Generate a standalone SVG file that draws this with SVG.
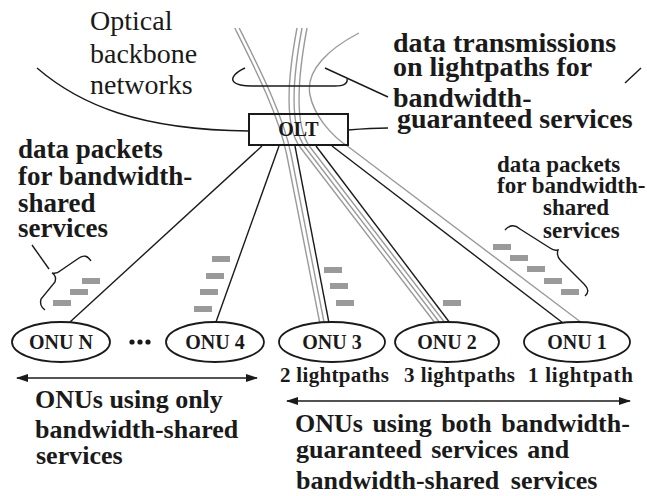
<svg xmlns="http://www.w3.org/2000/svg" width="647" height="496" viewBox="0 0 647 496">
<defs>
<style>
.g{fill:none;stroke:#9a9a9a;stroke-width:1.4}
.k{fill:none;stroke:#1a1a1a;stroke-width:1.4}
.pk{fill:#9a9a9a}
.b{font-weight:bold;fill:#1a1a1a}
.r{fill:#1a1a1a}
.onu{fill:#fff;stroke:#1a1a1a;stroke-width:1.8}
</style>
<marker id="ah" viewBox="0 0 12 8" refX="11" refY="4" markerWidth="12" markerHeight="8" markerUnits="userSpaceOnUse" orient="auto-start-reverse">
<path d="M0,0 L12,4 L0,8 Z" fill="#1a1a1a"/>
</marker>
</defs>
<rect width="647" height="496" fill="#fff"/>

<g font-family="'Liberation Serif', 'DejaVu Serif', serif">
<g id="backbone">
<path class="k" d="M37,68 C80,105 140,130 249,131"/>
<path class="k" d="M348,130 C360,129 375,128 388,128"/>
<path class="k" d="M625,83 L641,68"/>
<text class="r" font-size="28" x="90" y="30">Optical</text>
<text class="r" font-size="28" x="90" y="63">backbone</text>
<text class="r" font-size="28" x="90" y="94">networks</text>
</g>

<g id="connectors">
<path class="g" d="M234.8,28 C254.8,68 278.8,115 286.8,155 L319.8,323"/>
<path class="g" d="M239.2,28 C259.2,68 283.2,115 291.2,155 L324.2,323"/>
<path class="g" d="M297,28 C291,60 281,122 300,147 L435,323"/>
<path class="g" d="M302,28 C296,60 286,122 305,147 L440,323"/>
<path class="g" d="M307,28 C301,60 291,122 310,147 L445,323"/>
<path class="g" d="M359,33 C330,48 305,70 310,95 C314,115 330,135 350,148 L582,323"/>
<path class="k" d="M262,146 L70,322"/>
<path class="k" d="M279,146 L216,322"/>
<path class="k" d="M295,146 L329,323"/>
<path class="k" d="M316,146 L450,323"/>
<path class="k" d="M332,146 L563,323"/>
<path class="k" d="M245,68 C236,72 230,78 234,82 C238,86 248,86 258,86 L335,86 C343,86 348,84 347,79"/>
<path class="k" d="M325,68 L388,97"/>
<path class="k" d="M32,245 L49,269"/>
<path class="k" d="M91,261 Q86,253 79,258 L60,271 Q57,274 52,273 Q57,276 55,282 L41,299 Q39,306 45,310"/>
<path class="k" d="M505,230 Q512,222 520,229 L550,248 Q554,251 558,250 Q556,256 561,261 L584,284 Q591,291 585,296"/>
<line class="k" x1="17" y1="378" x2="257" y2="378" stroke-width="1.8" marker-start="url(#ah)" marker-end="url(#ah)"/>
<line class="k" x1="287" y1="401" x2="630" y2="401" stroke-width="1.8" marker-start="url(#ah)" marker-end="url(#ah)"/>
</g>

<g id="packets">
<rect class="pk" x="82" y="278" width="18" height="6"/>
<rect class="pk" x="70" y="289" width="18" height="6"/>
<rect class="pk" x="53" y="300" width="18" height="6"/>
<rect class="pk" x="212" y="256" width="18" height="6"/>
<rect class="pk" x="206" y="273" width="18" height="6"/>
<rect class="pk" x="200" y="289" width="18" height="6"/>
<rect class="pk" x="194" y="306" width="18" height="6"/>
<rect class="pk" x="324" y="267" width="18" height="6"/>
<rect class="pk" x="330" y="283" width="18" height="6"/>
<rect class="pk" x="336" y="300" width="18" height="6"/>
<rect class="pk" x="443" y="300" width="18" height="6"/>
<rect class="pk" x="493" y="244" width="18" height="6"/>
<rect class="pk" x="510" y="255" width="18" height="6"/>
<rect class="pk" x="527" y="266" width="18" height="6"/>
<rect class="pk" x="544" y="278" width="18" height="6"/>
<rect class="pk" x="561" y="289" width="18" height="6"/>
</g>

<g id="olt">
<rect x="249" y="114" width="99" height="31" fill="none" stroke="#1a1a1a" stroke-width="2"/>
<text class="b" font-size="20" x="298.5" y="136" text-anchor="middle">OLT</text>
</g>

<g id="onuN">
<ellipse class="onu" cx="61" cy="342" rx="49" ry="20"/>
<text class="b" font-size="20" x="61" y="349" text-anchor="middle">ONU N</text>
</g>
<g id="dots">
<circle cx="132" cy="342" r="2.6" fill="#1a1a1a"/>
<circle cx="140" cy="342" r="2.6" fill="#1a1a1a"/>
<circle cx="148" cy="342" r="2.6" fill="#1a1a1a"/>
</g>
<g id="onu4">
<ellipse class="onu" cx="215" cy="342" rx="49" ry="20"/>
<text class="b" font-size="20" x="215" y="349" text-anchor="middle">ONU 4</text>
</g>
<g id="onu3">
<ellipse class="onu" cx="332" cy="342" rx="53" ry="20"/>
<text class="b" font-size="20" x="332" y="349" text-anchor="middle">ONU 3</text>
</g>
<g id="onu2">
<ellipse class="onu" cx="447" cy="342" rx="52" ry="20"/>
<text class="b" font-size="20" x="447" y="349" text-anchor="middle">ONU 2</text>
</g>
<g id="onu1">
<ellipse class="onu" cx="577" cy="342" rx="53" ry="20"/>
<text class="b" font-size="20" x="577" y="349" text-anchor="middle">ONU 1</text>
</g>

<g id="labels">
<text class="b" font-size="21" x="280" y="382" textLength="109">2 lightpaths</text>
<text class="b" font-size="21" x="404" y="382" textLength="111">3 lightpaths</text>
<text class="b" font-size="21" x="528" y="382" textLength="105">1 lightpath</text>

<text class="b" font-size="28" x="393" y="52">data transmissions</text>
<text class="b" font-size="28" x="393" y="76">on lightpaths for</text>
<text class="b" font-size="28" x="393" y="107">bandwidth-</text>
<text class="b" font-size="28" x="397" y="128">guaranteed services</text>

<text class="b" font-size="27" x="18" y="158">data packets</text>
<text class="b" font-size="27" x="18" y="185">for bandwidth-</text>
<text class="b" font-size="27" x="18" y="212">shared</text>
<text class="b" font-size="27" x="18" y="237">services</text>

<text class="b" font-size="23" x="497" y="172">data packets</text>
<text class="b" font-size="23" x="497" y="193">for bandwidth-</text>
<text class="b" font-size="23" x="543" y="215">shared</text>
<text class="b" font-size="23" x="543" y="238">services</text>

<text class="b" font-size="26" x="35" y="408">ONUs using only</text>
<text class="b" font-size="26" x="35" y="438">bandwidth-shared</text>
<text class="b" font-size="26" x="36" y="464">services</text>

<text class="b" font-size="26" x="295" y="432" word-spacing="3">ONUs using both bandwidth-</text>
<text class="b" font-size="26" x="296" y="458" word-spacing="3">guaranteed services and</text>
<text class="b" font-size="26" x="296" y="489" word-spacing="5">bandwidth-shared services</text>
</g>
</g>
</svg>
